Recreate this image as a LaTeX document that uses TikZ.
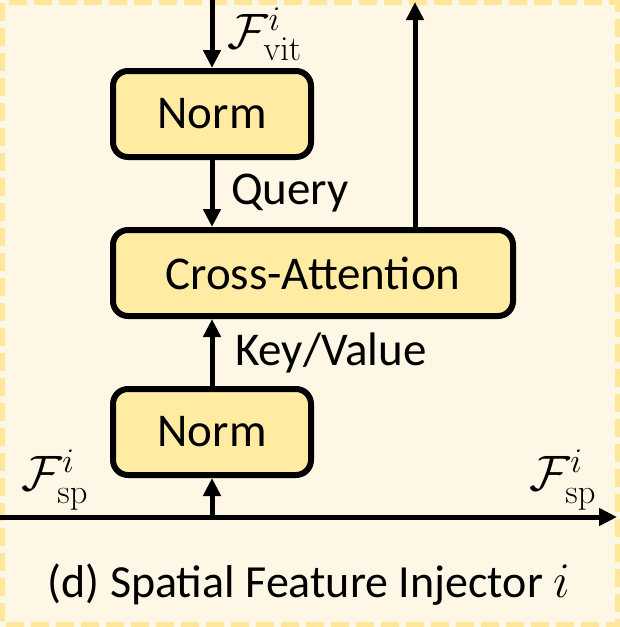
\documentclass[tikz,border=0pt]{standalone}
\usepackage[no-math]{fontspec}
\setmainfont{Carlito}
\usetikzlibrary{positioning,arrows.meta}
\definecolor{bgfill}{RGB}{255,247,229}
\definecolor{bgdash}{RGB}{255,230,153}
\definecolor{boxfill}{RGB}{255,235,162}
\tikzset{
  blk/.style={draw,line width=3pt,rounded corners=7.5pt,fill=boxfill,minimum height=43pt,inner sep=0pt},
  flow/.style={line width=2.5pt,-{Triangle[length=9pt,width=8.5pt]}},
  lbl/.style={font=\fontsize{27}{30}\selectfont}
}
\begin{document}
\begin{tikzpicture}[x=0.5pt,y=-0.5pt,font=\fontsize{23.5}{27}\selectfont]
\useasboundingbox (0,0) rectangle (620,627);
\fill[bgfill] (0,0) rectangle (620,627);
\draw[bgdash,line width=2.5pt,dash pattern=on 9pt off 3.5pt] (2.5,2.5) rectangle (617.5,624.5);
% blocks
\node[blk,minimum width=99pt] (NRM1) at (212,114) {Norm};
\node[blk,minimum width=200pt,below=33.5pt of NRM1.south west,anchor=north west] (CA) {Cross-Attention};
\node[blk,minimum width=99pt,below=33.5pt of CA.south west,anchor=north west] (NRM2) {Norm};
% ends
\coordinate (VIN) at (212,0);
\coordinate (OUT) at (415,2);
\coordinate (SPIN) at (0,517);
\coordinate (SPOUT) at (617,517);
% arrows
\draw[flow] (VIN) -- (NRM1);
\draw[flow] (NRM1) -- (NRM1 |- CA.north) node[midway,right=5pt] (QRY) {Query};
\draw[flow] (OUT |- CA.north) -- (OUT);
\draw[flow] (NRM2) -- (NRM2 |- CA.south) node[midway,right=7pt] (KV) {Key/Value};
\draw[flow] (SPIN) -- (SPOUT);
\draw[flow] (NRM2 |- SPIN) -- (NRM2);
% labels
\node[lbl] (FV) at (265,34) {$\mathcal{F}^{i}_{\mathrm{vit}}$};
\node[lbl] (FS1) at (55,480) {$\mathcal{F}^{i}_{\mathrm{sp}}$};
\node[lbl] (FS2) at (563,480) {$\mathcal{F}^{i}_{\mathrm{sp}}$};
\node[font=\fontsize{23}{27}\selectfont] (CAP) at (309,585) {(d) Spatial Feature Injector $i$};
\end{tikzpicture}
\end{document}
